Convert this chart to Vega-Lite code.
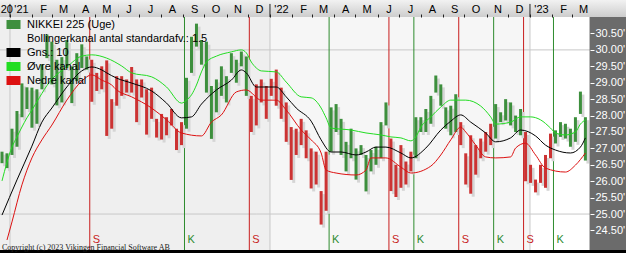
{
"$schema": "https://vega.github.io/schema/vega-lite/v6.json",
"width": 626, "height": 253, "padding": 0, "autosize": {"type": "none"},
"background": "#ffffff",
"config": {"view": {"stroke": null}, "font": "Liberation Sans", "axis": {"labelOverlap": false, "labelBound": false, "labelFlush": false}},
"title": {"text": "Copyright (c) 2023 Vikingen Financial Software AB", "orient": "bottom", "anchor": "start", "frame": "group", "offset": -4, "baseline": "alphabetic", "font": "Liberation Serif", "fontSize": 8, "fontWeight": "normal", "color": "#222222", "dx": 2},
"datasets": {
"years": [{"d":"2021-01-01"},{"d":"2022-01-01"},{"d":"2023-01-01"}],
"periods": [{"a":"2020-12-01","b":"2022-01-01","p":"first"},{"a":"2022-01-01","b":"2023-01-01","p":"second"}],
"signals": [{"d":"2021-04-23","t":"S"},{"d":"2021-09-03","t":"K"},{"d":"2021-12-03","t":"S"},{"d":"2022-03-25","t":"K"},{"d":"2022-06-17","t":"S"},{"d":"2022-07-22","t":"K"},{"d":"2022-09-23","t":"S"},{"d":"2022-11-11","t":"K"},{"d":"2022-12-23","t":"S"},{"d":"2023-02-03","t":"K"}],
"bars": [
{"d":"2020-12-18","lo":26.55,"hi":26.90,"s":"K"},
{"d":"2020-12-25","lo":26.40,"hi":26.85,"s":"K"},
{"d":"2021-01-01","lo":26.80,"hi":27.60,"s":"K"},
{"d":"2021-01-08","lo":27.05,"hi":28.14,"s":"K"},
{"d":"2021-01-15","lo":27.95,"hi":28.98,"s":"K"},
{"d":"2021-01-22","lo":28.20,"hi":28.86,"s":"K"},
{"d":"2021-01-29","lo":27.63,"hi":28.85,"s":"K"},
{"d":"2021-02-05","lo":27.75,"hi":28.80,"s":"K"},
{"d":"2021-02-12","lo":28.80,"hi":29.56,"s":"K"},
{"d":"2021-02-19","lo":29.75,"hi":30.47,"s":"K"},
{"d":"2021-02-26","lo":28.95,"hi":30.25,"s":"K"},
{"d":"2021-03-05","lo":28.31,"hi":29.70,"s":"K"},
{"d":"2021-03-12","lo":28.40,"hi":29.78,"s":"K"},
{"d":"2021-03-19","lo":29.45,"hi":30.30,"s":"K"},
{"d":"2021-03-26","lo":28.38,"hi":29.50,"s":"K"},
{"d":"2021-04-02","lo":29.05,"hi":29.90,"s":"K"},
{"d":"2021-04-09","lo":29.45,"hi":30.17,"s":"K"},
{"d":"2021-04-16","lo":29.40,"hi":29.80,"s":"K"},
{"d":"2021-04-23","lo":28.42,"hi":29.70,"s":"S"},
{"d":"2021-04-30","lo":28.75,"hi":29.30,"s":"S"},
{"d":"2021-05-07","lo":28.80,"hi":29.50,"s":"S"},
{"d":"2021-05-14","lo":27.38,"hi":29.68,"s":"S"},
{"d":"2021-05-21","lo":27.60,"hi":28.50,"s":"S"},
{"d":"2021-05-28","lo":28.30,"hi":29.20,"s":"S"},
{"d":"2021-06-04","lo":28.60,"hi":29.20,"s":"S"},
{"d":"2021-06-11","lo":28.70,"hi":29.10,"s":"S"},
{"d":"2021-06-18","lo":28.70,"hi":29.48,"s":"S"},
{"d":"2021-06-25","lo":27.80,"hi":29.10,"s":"S"},
{"d":"2021-07-02","lo":28.55,"hi":29.10,"s":"S"},
{"d":"2021-07-09","lo":27.42,"hi":28.80,"s":"S"},
{"d":"2021-07-16","lo":27.90,"hi":28.85,"s":"S"},
{"d":"2021-07-23","lo":27.33,"hi":27.90,"s":"S"},
{"d":"2021-07-30","lo":27.27,"hi":28.05,"s":"S"},
{"d":"2021-08-06","lo":27.40,"hi":27.95,"s":"S"},
{"d":"2021-08-13","lo":27.70,"hi":28.20,"s":"S"},
{"d":"2021-08-20","lo":26.95,"hi":27.60,"s":"S"},
{"d":"2021-08-27","lo":27.10,"hi":27.80,"s":"S"},
{"d":"2021-09-03","lo":27.60,"hi":29.15,"s":"K"},
{"d":"2021-09-10","lo":29.30,"hi":30.40,"s":"K"},
{"d":"2021-09-17","lo":30.10,"hi":30.80,"s":"K"},
{"d":"2021-09-24","lo":29.55,"hi":30.30,"s":"K"},
{"d":"2021-10-01","lo":28.70,"hi":30.25,"s":"K"},
{"d":"2021-10-08","lo":27.29,"hi":28.90,"s":"K"},
{"d":"2021-10-15","lo":28.10,"hi":29.10,"s":"K"},
{"d":"2021-10-22","lo":28.60,"hi":29.50,"s":"K"},
{"d":"2021-10-29","lo":28.40,"hi":29.20,"s":"K"},
{"d":"2021-11-05","lo":29.30,"hi":29.90,"s":"K"},
{"d":"2021-11-12","lo":29.00,"hi":29.70,"s":"K"},
{"d":"2021-11-19","lo":29.50,"hi":29.95,"s":"K"},
{"d":"2021-11-26","lo":28.60,"hi":29.80,"s":"K"},
{"d":"2021-12-03","lo":27.50,"hi":28.60,"s":"S"},
{"d":"2021-12-10","lo":27.70,"hi":28.95,"s":"S"},
{"d":"2021-12-17","lo":28.40,"hi":29.10,"s":"S"},
{"d":"2021-12-24","lo":27.90,"hi":28.90,"s":"S"},
{"d":"2021-12-31","lo":28.60,"hi":29.12,"s":"S"},
{"d":"2022-01-07","lo":28.30,"hi":29.40,"s":"S"},
{"d":"2022-01-14","lo":27.90,"hi":28.85,"s":"S"},
{"d":"2022-01-21","lo":27.20,"hi":28.40,"s":"S"},
{"d":"2022-01-28","lo":26.04,"hi":27.65,"s":"S"},
{"d":"2022-02-04","lo":26.80,"hi":27.60,"s":"S"},
{"d":"2022-02-11","lo":27.10,"hi":27.90,"s":"S"},
{"d":"2022-02-18","lo":26.70,"hi":27.55,"s":"S"},
{"d":"2022-02-25","lo":25.78,"hi":27.00,"s":"S"},
{"d":"2022-03-04","lo":25.90,"hi":26.90,"s":"S"},
{"d":"2022-03-11","lo":24.68,"hi":25.70,"s":"S"},
{"d":"2022-03-18","lo":25.10,"hi":26.90,"s":"S"},
{"d":"2022-03-25","lo":26.90,"hi":28.25,"s":"K"},
{"d":"2022-04-01","lo":27.50,"hi":28.35,"s":"K"},
{"d":"2022-04-08","lo":26.80,"hi":27.90,"s":"K"},
{"d":"2022-04-15","lo":26.30,"hi":27.20,"s":"K"},
{"d":"2022-04-22","lo":26.70,"hi":27.60,"s":"K"},
{"d":"2022-04-29","lo":26.05,"hi":27.00,"s":"K"},
{"d":"2022-05-06","lo":26.80,"hi":27.10,"s":"K"},
{"d":"2022-05-13","lo":25.69,"hi":26.80,"s":"K"},
{"d":"2022-05-20","lo":26.30,"hi":26.95,"s":"K"},
{"d":"2022-05-27","lo":26.50,"hi":27.05,"s":"K"},
{"d":"2022-06-03","lo":26.70,"hi":27.80,"s":"K"},
{"d":"2022-06-10","lo":27.70,"hi":28.40,"s":"K"},
{"d":"2022-06-17","lo":25.70,"hi":27.30,"s":"S"},
{"d":"2022-06-24","lo":25.52,"hi":26.50,"s":"S"},
{"d":"2022-07-01","lo":25.80,"hi":27.10,"s":"S"},
{"d":"2022-07-08","lo":25.90,"hi":26.60,"s":"S"},
{"d":"2022-07-15","lo":26.30,"hi":26.90,"s":"S"},
{"d":"2022-07-22","lo":26.70,"hi":27.95,"s":"K"},
{"d":"2022-07-29","lo":27.50,"hi":27.95,"s":"K"},
{"d":"2022-08-05","lo":27.50,"hi":28.20,"s":"K"},
{"d":"2022-08-12","lo":27.75,"hi":28.60,"s":"K"},
{"d":"2022-08-19","lo":28.70,"hi":29.22,"s":"K"},
{"d":"2022-08-26","lo":28.30,"hi":28.95,"s":"K"},
{"d":"2022-09-02","lo":27.60,"hi":28.25,"s":"K"},
{"d":"2022-09-09","lo":27.40,"hi":28.30,"s":"K"},
{"d":"2022-09-16","lo":27.50,"hi":28.65,"s":"K"},
{"d":"2022-09-23","lo":27.10,"hi":27.80,"s":"S"},
{"d":"2022-09-30","lo":25.90,"hi":26.85,"s":"S"},
{"d":"2022-10-07","lo":25.62,"hi":27.40,"s":"S"},
{"d":"2022-10-14","lo":26.20,"hi":27.10,"s":"S"},
{"d":"2022-10-21","lo":26.70,"hi":27.30,"s":"S"},
{"d":"2022-10-28","lo":26.90,"hi":27.50,"s":"S"},
{"d":"2022-11-04","lo":27.10,"hi":27.75,"s":"S"},
{"d":"2022-11-11","lo":27.30,"hi":28.35,"s":"K"},
{"d":"2022-11-18","lo":27.80,"hi":28.10,"s":"K"},
{"d":"2022-11-25","lo":27.85,"hi":28.50,"s":"K"},
{"d":"2022-12-02","lo":27.70,"hi":28.40,"s":"K"},
{"d":"2022-12-09","lo":27.50,"hi":28.00,"s":"K"},
{"d":"2022-12-16","lo":27.40,"hi":28.20,"s":"K"},
{"d":"2022-12-23","lo":26.00,"hi":27.50,"s":"S"},
{"d":"2022-12-30","lo":25.95,"hi":26.50,"s":"S"},
{"d":"2023-01-06","lo":25.66,"hi":26.05,"s":"S"},
{"d":"2023-01-13","lo":25.95,"hi":26.50,"s":"S"},
{"d":"2023-01-20","lo":25.80,"hi":26.80,"s":"S"},
{"d":"2023-01-27","lo":26.70,"hi":27.45,"s":"S"},
{"d":"2023-02-03","lo":27.15,"hi":27.55,"s":"K"},
{"d":"2023-02-10","lo":27.35,"hi":27.80,"s":"K"},
{"d":"2023-02-17","lo":27.30,"hi":27.75,"s":"K"},
{"d":"2023-02-24","lo":27.05,"hi":27.60,"s":"K"},
{"d":"2023-03-03","lo":27.20,"hi":27.95,"s":"K"},
{"d":"2023-03-10","lo":28.05,"hi":28.73,"s":"K"},
{"d":"2023-03-17","lo":26.63,"hi":27.95,"s":"K"}
],
"bands": [
{"d":"2020-12-18","s":"Øvre kanal","v":26.01},{"d":"2021-01-01","s":"Øvre kanal","v":27.04},{"d":"2021-01-08","s":"Øvre kanal","v":27.35},{"d":"2021-01-22","s":"Øvre kanal","v":27.93},{"d":"2021-01-29","s":"Øvre kanal","v":28.17},{"d":"2021-02-26","s":"Øvre kanal","v":29.11},{"d":"2021-03-19","s":"Øvre kanal","v":29.48},{"d":"2021-04-09","s":"Øvre kanal","v":29.81},{"d":"2021-04-23","s":"Øvre kanal","v":29.85},{"d":"2021-05-14","s":"Øvre kanal","v":29.75},{"d":"2021-06-04","s":"Øvre kanal","v":29.51},{"d":"2021-06-18","s":"Øvre kanal","v":29.30},{"d":"2021-07-16","s":"Øvre kanal","v":29.18},{"d":"2021-08-06","s":"Øvre kanal","v":28.87},{"d":"2021-08-27","s":"Øvre kanal","v":28.38},{"d":"2021-09-03","s":"Øvre kanal","v":28.47},{"d":"2021-09-10","s":"Øvre kanal","v":28.63},{"d":"2021-09-17","s":"Øvre kanal","v":28.93},{"d":"2021-09-24","s":"Øvre kanal","v":29.33},{"d":"2021-10-01","s":"Øvre kanal","v":29.63},{"d":"2021-10-15","s":"Øvre kanal","v":29.81},{"d":"2021-11-05","s":"Øvre kanal","v":29.94},{"d":"2021-11-19","s":"Øvre kanal","v":30.00},{"d":"2021-11-26","s":"Øvre kanal","v":29.91},{"d":"2021-12-03","s":"Øvre kanal","v":29.63},{"d":"2021-12-10","s":"Øvre kanal","v":29.45},{"d":"2021-12-17","s":"Øvre kanal","v":29.36},{"d":"2022-01-07","s":"Øvre kanal","v":29.33},{"d":"2022-01-21","s":"Øvre kanal","v":29.02},{"d":"2022-02-11","s":"Øvre kanal","v":28.57},{"d":"2022-02-25","s":"Øvre kanal","v":28.54},{"d":"2022-03-11","s":"Øvre kanal","v":28.23},{"d":"2022-03-18","s":"Øvre kanal","v":27.93},{"d":"2022-03-25","s":"Øvre kanal","v":27.62},{"d":"2022-04-22","s":"Øvre kanal","v":27.56},{"d":"2022-05-13","s":"Øvre kanal","v":27.47},{"d":"2022-06-03","s":"Øvre kanal","v":27.41},{"d":"2022-06-17","s":"Øvre kanal","v":27.35},{"d":"2022-07-01","s":"Øvre kanal","v":27.32},{"d":"2022-07-15","s":"Øvre kanal","v":27.23},{"d":"2022-07-22","s":"Øvre kanal","v":27.35},{"d":"2022-07-29","s":"Øvre kanal","v":27.65},{"d":"2022-08-12","s":"Øvre kanal","v":27.96},{"d":"2022-08-26","s":"Øvre kanal","v":28.26},{"d":"2022-09-09","s":"Øvre kanal","v":28.47},{"d":"2022-09-30","s":"Øvre kanal","v":28.47},{"d":"2022-10-21","s":"Øvre kanal","v":28.29},{"d":"2022-11-04","s":"Øvre kanal","v":27.96},{"d":"2022-11-11","s":"Øvre kanal","v":27.74},{"d":"2022-12-02","s":"Øvre kanal","v":27.80},{"d":"2022-12-16","s":"Øvre kanal","v":27.96},{"d":"2022-12-30","s":"Øvre kanal","v":27.96},{"d":"2023-01-13","s":"Øvre kanal","v":27.87},{"d":"2023-01-27","s":"Øvre kanal","v":27.62},{"d":"2023-02-03","s":"Øvre kanal","v":27.47},{"d":"2023-02-17","s":"Øvre kanal","v":27.41},{"d":"2023-03-03","s":"Øvre kanal","v":27.50},{"d":"2023-03-10","s":"Øvre kanal","v":27.74},{"d":"2023-03-17","s":"Øvre kanal","v":27.87},
{"d":"2020-12-18","s":"Gns.: 10","v":24.97},{"d":"2021-01-08","s":"Gns.: 10","v":26.04},{"d":"2021-01-29","s":"Gns.: 10","v":27.07},{"d":"2021-02-12","s":"Gns.: 10","v":27.80},{"d":"2021-02-26","s":"Gns.: 10","v":28.23},{"d":"2021-03-19","s":"Gns.: 10","v":28.87},{"d":"2021-04-09","s":"Gns.: 10","v":29.36},{"d":"2021-04-23","s":"Gns.: 10","v":29.48},{"d":"2021-05-07","s":"Gns.: 10","v":29.39},{"d":"2021-05-14","s":"Gns.: 10","v":29.30},{"d":"2021-05-28","s":"Gns.: 10","v":29.14},{"d":"2021-06-18","s":"Gns.: 10","v":28.99},{"d":"2021-07-16","s":"Gns.: 10","v":28.75},{"d":"2021-08-06","s":"Gns.: 10","v":28.38},{"d":"2021-08-27","s":"Gns.: 10","v":27.93},{"d":"2021-09-10","s":"Gns.: 10","v":27.96},{"d":"2021-09-24","s":"Gns.: 10","v":28.35},{"d":"2021-10-15","s":"Gns.: 10","v":28.78},{"d":"2021-11-05","s":"Gns.: 10","v":29.08},{"d":"2021-11-19","s":"Gns.: 10","v":29.39},{"d":"2021-11-26","s":"Gns.: 10","v":29.30},{"d":"2021-12-10","s":"Gns.: 10","v":28.87},{"d":"2022-01-07","s":"Gns.: 10","v":28.87},{"d":"2022-01-21","s":"Gns.: 10","v":28.57},{"d":"2022-02-04","s":"Gns.: 10","v":28.23},{"d":"2022-02-25","s":"Gns.: 10","v":27.83},{"d":"2022-03-11","s":"Gns.: 10","v":27.26},{"d":"2022-03-25","s":"Gns.: 10","v":26.89},{"d":"2022-04-08","s":"Gns.: 10","v":26.89},{"d":"2022-04-29","s":"Gns.: 10","v":26.80},{"d":"2022-05-13","s":"Gns.: 10","v":26.89},{"d":"2022-05-27","s":"Gns.: 10","v":27.04},{"d":"2022-06-10","s":"Gns.: 10","v":27.04},{"d":"2022-07-01","s":"Gns.: 10","v":26.86},{"d":"2022-07-15","s":"Gns.: 10","v":26.71},{"d":"2022-08-05","s":"Gns.: 10","v":27.01},{"d":"2022-08-26","s":"Gns.: 10","v":27.56},{"d":"2022-09-09","s":"Gns.: 10","v":27.83},{"d":"2022-09-23","s":"Gns.: 10","v":28.02},{"d":"2022-10-07","s":"Gns.: 10","v":27.80},{"d":"2022-10-28","s":"Gns.: 10","v":27.47},{"d":"2022-11-11","s":"Gns.: 10","v":27.20},{"d":"2022-12-02","s":"Gns.: 10","v":27.32},{"d":"2022-12-16","s":"Gns.: 10","v":27.56},{"d":"2023-01-06","s":"Gns.: 10","v":27.38},{"d":"2023-01-20","s":"Gns.: 10","v":27.10},{"d":"2023-02-03","s":"Gns.: 10","v":26.95},{"d":"2023-02-24","s":"Gns.: 10","v":26.86},{"d":"2023-03-10","s":"Gns.: 10","v":27.04},{"d":"2023-03-17","s":"Gns.: 10","v":27.32},
{"d":"2020-12-25","s":"Nedre kanal","v":24.21},{"d":"2021-01-01","s":"Nedre kanal","v":24.76},{"d":"2021-01-15","s":"Nedre kanal","v":25.89},{"d":"2021-01-29","s":"Nedre kanal","v":26.71},{"d":"2021-02-12","s":"Nedre kanal","v":27.26},{"d":"2021-02-26","s":"Nedre kanal","v":27.71},{"d":"2021-03-19","s":"Nedre kanal","v":28.47},{"d":"2021-04-09","s":"Nedre kanal","v":29.05},{"d":"2021-04-23","s":"Nedre kanal","v":29.24},{"d":"2021-05-07","s":"Nedre kanal","v":29.08},{"d":"2021-05-21","s":"Nedre kanal","v":28.93},{"d":"2021-05-28","s":"Nedre kanal","v":28.78},{"d":"2021-06-18","s":"Nedre kanal","v":28.57},{"d":"2021-07-16","s":"Nedre kanal","v":28.23},{"d":"2021-08-06","s":"Nedre kanal","v":27.87},{"d":"2021-08-27","s":"Nedre kanal","v":27.47},{"d":"2021-09-24","s":"Nedre kanal","v":27.38},{"d":"2021-10-08","s":"Nedre kanal","v":27.80},{"d":"2021-10-22","s":"Nedre kanal","v":28.02},{"d":"2021-11-12","s":"Nedre kanal","v":28.72},{"d":"2021-11-26","s":"Nedre kanal","v":28.78},{"d":"2021-12-17","s":"Nedre kanal","v":28.47},{"d":"2022-01-07","s":"Nedre kanal","v":28.47},{"d":"2022-01-21","s":"Nedre kanal","v":28.17},{"d":"2022-02-11","s":"Nedre kanal","v":27.56},{"d":"2022-02-25","s":"Nedre kanal","v":27.26},{"d":"2022-03-11","s":"Nedre kanal","v":26.86},{"d":"2022-03-18","s":"Nedre kanal","v":26.34},{"d":"2022-04-01","s":"Nedre kanal","v":26.25},{"d":"2022-04-29","s":"Nedre kanal","v":26.19},{"d":"2022-05-13","s":"Nedre kanal","v":26.34},{"d":"2022-05-20","s":"Nedre kanal","v":26.71},{"d":"2022-06-10","s":"Nedre kanal","v":26.71},{"d":"2022-07-01","s":"Nedre kanal","v":26.43},{"d":"2022-07-15","s":"Nedre kanal","v":26.25},{"d":"2022-08-12","s":"Nedre kanal","v":26.46},{"d":"2022-08-26","s":"Nedre kanal","v":26.80},{"d":"2022-09-09","s":"Nedre kanal","v":27.26},{"d":"2022-09-23","s":"Nedre kanal","v":27.65},{"d":"2022-09-30","s":"Nedre kanal","v":27.50},{"d":"2022-10-14","s":"Nedre kanal","v":27.10},{"d":"2022-10-28","s":"Nedre kanal","v":26.74},{"d":"2022-11-11","s":"Nedre kanal","v":26.71},{"d":"2022-12-02","s":"Nedre kanal","v":26.74},{"d":"2022-12-09","s":"Nedre kanal","v":27.01},{"d":"2022-12-23","s":"Nedre kanal","v":27.16},{"d":"2023-01-06","s":"Nedre kanal","v":26.80},{"d":"2023-01-20","s":"Nedre kanal","v":26.40},{"d":"2023-02-17","s":"Nedre kanal","v":26.28},{"d":"2023-03-03","s":"Nedre kanal","v":26.49},{"d":"2023-03-17","s":"Nedre kanal","v":26.86}
]
},
"resolve": {"scale": {"color": "independent"}},
"layer": [
{"data": {"name": "periods"},
 "mark": {"type": "rect"},
 "encoding": {
  "x": {"field": "a", "type": "temporal", "scale": {"type":"utc","domain":[{"year":2020,"month":12,"date":18,"utc":true},{"year":2023,"month":5,"date":15,"hours":19,"minutes":12,"utc":true}]},
   "axis": {"orient": "top", "offset": -17, "zindex": 1, "title": null, "domain": false, "grid": false,
    "tickCount": 200, "tickSize": 3, "tickColor": "#202020", "tickWidth": 1,
    "values": [{"year":2020,"month":12,"date":18,"hours":12,"utc":true},{"year":2021,"month":1,"date":1,"utc":true},{"year":2021,"month":2,"date":1,"utc":true},{"year":2021,"month":3,"date":1,"utc":true},{"year":2021,"month":4,"date":1,"utc":true},{"year":2021,"month":5,"date":1,"utc":true},{"year":2021,"month":6,"date":1,"utc":true},{"year":2021,"month":7,"date":1,"utc":true},{"year":2021,"month":8,"date":1,"utc":true},{"year":2021,"month":9,"date":1,"utc":true},{"year":2021,"month":10,"date":1,"utc":true},{"year":2021,"month":11,"date":1,"utc":true},{"year":2021,"month":12,"date":1,"utc":true},{"year":2022,"month":1,"date":1,"utc":true},{"year":2022,"month":2,"date":1,"utc":true},{"year":2022,"month":3,"date":1,"utc":true},{"year":2022,"month":4,"date":1,"utc":true},{"year":2022,"month":5,"date":1,"utc":true},{"year":2022,"month":6,"date":1,"utc":true},{"year":2022,"month":7,"date":1,"utc":true},{"year":2022,"month":8,"date":1,"utc":true},{"year":2022,"month":9,"date":1,"utc":true},{"year":2022,"month":10,"date":1,"utc":true},{"year":2022,"month":11,"date":1,"utc":true},{"year":2022,"month":12,"date":1,"utc":true},{"year":2023,"month":1,"date":1,"utc":true},{"year":2023,"month":2,"date":1,"utc":true},{"year":2023,"month":3,"date":1,"utc":true}],
    "labelExpr": "utcyear(datum.value) < 2021 ? '20' : (utcmonth(datum.value) == 0 ? \"'\" + format(utcyear(datum.value) % 100, '02d') : ['J','F','M','A','M','J','J','A','S','O','N','D'][utcmonth(datum.value)])",
    "labelFont": "Liberation Sans", "labelFontSize": 11, "labelColor": "#000000", "labelBaseline": "alphabetic",
    "labelPadding": 2, "labelFlush": false, "labelOverlap": false, "labelBound": false,
    "labelOffset": {"condition": {"test": "utcyear(datum.value) < 2021", "value": 6}, "value": 11},
    "tickOpacity": {"condition": {"test": "utcyear(datum.value) < 2021", "value": 0}, "value": 1}}},
  "x2": {"field": "b"},
  "y": {"datum": 23.9053, "type": "quantitative", "scale": {"domain":[23.814,31.52],"nice":false,"zero":false},
   "axis": {"orient": "right", "offset": -36, "zindex": 1, "title": null, "domain": false, "grid": false,
    "tickCount": 200, "values": [24.5,25,25.5,26,26.5,27,27.5,28,28.5,29,29.5,30,30.5],
    "tickColor": "#ffffff", "tickSize": 4, "tickWidth": 1,
    "labelColor": "#ffffff", "labelFont": "Liberation Sans", "labelFontSize": 11, "labelPadding": 1,
    "labelExpr": "format(datum.value, '.2f') + \"'\"", "labelBaseline": "middle", "labelFlush": false, "labelOverlap": false, "labelBound": false}},
  "y2": {"datum": 31.0026},
  "fill": {"condition": {"test": "datum.p == 'first'", "value": "#efefef"}, "value": "#f6f6f6"}}},
{"data": {"values": [{"level":25},{"level":30}]},
 "mark": {"type": "rule", "color": "#c8c8c8", "strokeWidth": 1},
 "encoding": {"y": {"field": "level", "type": "quantitative", "scale": {"domain":[23.814,31.52],"nice":false,"zero":false}}}},
{"data": {"name": "years"},
 "mark": {"type": "rule", "color": "#c8c8c8", "strokeWidth": 1},
 "encoding": {"x": {"field": "d", "type": "temporal", "scale": {"type":"utc","domain":[{"year":2020,"month":12,"date":18,"utc":true},{"year":2023,"month":5,"date":15,"hours":19,"minutes":12,"utc":true}]}}}},
{"data": {"name": "signals"},
 "mark": {"type": "rule", "strokeWidth": 1},
 "encoding": {
  "x": {"field": "d", "type": "temporal", "scale": {"type":"utc","domain":[{"year":2020,"month":12,"date":18,"utc":true},{"year":2023,"month":5,"date":15,"hours":19,"minutes":12,"utc":true}]}},
  "color": {"field": "t", "type": "nominal", "scale": {"domain": ["K","S"], "range": ["#2e8b2e","#c81e1e"]}, "legend": null}}},
{"data": {"name": "signals"},
 "mark": {"type": "text", "align": "left", "baseline": "middle", "dx": 3, "font": "Liberation Sans", "fontSize": 11},
 "encoding": {
  "x": {"field": "d", "type": "temporal", "scale": {"type":"utc","domain":[{"year":2020,"month":12,"date":18,"utc":true},{"year":2023,"month":5,"date":15,"hours":19,"minutes":12,"utc":true}]}},
  "y": {"datum": 24.225, "type": "quantitative", "scale": {"domain":[23.814,31.52],"nice":false,"zero":false}},
  "text": {"field": "t"},
  "color": {"field": "t", "type": "nominal", "scale": {"domain": ["K","S"], "range": ["#2e8b2e","#c81e1e"]}, "legend": null}}},
{"data": {"name": "bars"},
 "mark": {"type": "rule", "strokeWidth": 3, "color": "#d5d5d5", "xOffset": 4.5, "yOffset": 3, "y2Offset": 3},
 "encoding": {
  "x": {"field": "d", "type": "temporal", "scale": {"type":"utc","domain":[{"year":2020,"month":12,"date":18,"utc":true},{"year":2023,"month":5,"date":15,"hours":19,"minutes":12,"utc":true}]}},
  "y": {"field": "lo", "type": "quantitative", "scale": {"domain":[23.814,31.52],"nice":false,"zero":false}},
  "y2": {"field": "hi"}}},
{"data": {"name": "bars"},
 "mark": {"type": "rule", "strokeWidth": 3, "xOffset": 2},
 "encoding": {
  "x": {"field": "d", "type": "temporal", "scale": {"type":"utc","domain":[{"year":2020,"month":12,"date":18,"utc":true},{"year":2023,"month":5,"date":15,"hours":19,"minutes":12,"utc":true}]}},
  "y": {"field": "lo", "type": "quantitative", "scale": {"domain":[23.814,31.52],"nice":false,"zero":false}},
  "y2": {"field": "hi"},
  "color": {"field": "s", "type": "nominal", "scale": {"domain": ["K","S"], "range": ["#3d8f3d","#cc3333"]}, "legend": null}}},
{"data": {"name": "bands"},
 "mark": {"type": "line", "strokeWidth": 1, "xOffset": 2, "interpolate": "monotone"},
 "encoding": {
  "x": {"field": "d", "type": "temporal", "scale": {"type":"utc","domain":[{"year":2020,"month":12,"date":18,"utc":true},{"year":2023,"month":5,"date":15,"hours":19,"minutes":12,"utc":true}]}},
  "y": {"field": "v", "type": "quantitative", "scale": {"domain":[23.814,31.52],"nice":false,"zero":false}},
  "color": {"field": "s", "type": "nominal",
   "scale": {"domain": ["NIKKEI 225 (Uge)", "Bollingerkanal antal standardafv.: 1.5", "Gns.: 10", "Øvre kanal", "Nedre kanal"], "range": ["#3d8f3d", "rgba(0,0,0,0)", "#000000", "#22dd22", "#dd1111"]},
   "legend": {"orient": "none", "legendX": 2, "legendY": 19, "title": null, "direction": "vertical", "symbolType": "stroke", "symbolSize": 196, "symbolStrokeWidth": 9, "symbolOpacity": 1, "clipHeight": 11, "labelFont": "Liberation Sans", "labelFontSize": 11, "labelColor": "#000000", "labelLimit": 400, "rowPadding": 2, "labelOffset": 2, "padding": 0}}}},
{"data": {"values": [{"a":"2020-12-01","b":"2023-06-01"}]},
 "mark": {"type": "rect", "fill": {"x1":0,"y1":0,"x2":0,"y2":1,"gradient":"linear","stops":[{"offset":0,"color":"#f2f2f2"},{"offset":1,"color":"#cdcdcd"}]}},
 "encoding": {
  "x": {"field": "a", "type": "temporal", "scale": {"type":"utc","domain":[{"year":2020,"month":12,"date":18,"utc":true},{"year":2023,"month":5,"date":15,"hours":19,"minutes":12,"utc":true}]}},
  "x2": {"field": "b"},
  "y": {"datum": 31.0026, "type": "quantitative", "scale": {"domain":[23.814,31.52],"nice":false,"zero":false}},
  "y2": {"datum": 31.52}}},
{"data": {"name": "years"},
 "mark": {"type": "rule", "color": "#202020", "strokeWidth": 1},
 "encoding": {
  "x": {"field": "d", "type": "temporal", "scale": {"type":"utc","domain":[{"year":2020,"month":12,"date":18,"utc":true},{"year":2023,"month":5,"date":15,"hours":19,"minutes":12,"utc":true}]}},
  "y": {"datum": 31.0026, "type": "quantitative", "scale": {"domain":[23.814,31.52],"nice":false,"zero":false}},
  "y2": {"datum": 31.40}}},
{"data": {"values": [{"a":"2023-03-25T15:00:00Z","b":"2023-06-01"}]},
 "mark": {"type": "rect", "fill": "#6b6b6b"},
 "encoding": {
  "x": {"field": "a", "type": "temporal", "scale": {"type":"utc","domain":[{"year":2020,"month":12,"date":18,"utc":true},{"year":2023,"month":5,"date":15,"hours":19,"minutes":12,"utc":true}]}},
  "x2": {"field": "b"},
  "y": {"datum": 23.814, "type": "quantitative", "scale": {"domain":[23.814,31.52],"nice":false,"zero":false}},
  "y2": {"datum": 31.0026}}},
{"data": {"values": [{"a":"2020-12-01","b":"2023-06-01"}]},
 "mark": {"type": "rect", "fill": "#000000"},
 "encoding": {
  "x": {"field": "a", "type": "temporal", "scale": {"type":"utc","domain":[{"year":2020,"month":12,"date":18,"utc":true},{"year":2023,"month":5,"date":15,"hours":19,"minutes":12,"utc":true}]}},
  "x2": {"field": "b"},
  "y": {"datum": 23.814, "type": "quantitative", "scale": {"domain":[23.814,31.52],"nice":false,"zero":false}},
  "y2": {"datum": 23.9053}}}
]
}
